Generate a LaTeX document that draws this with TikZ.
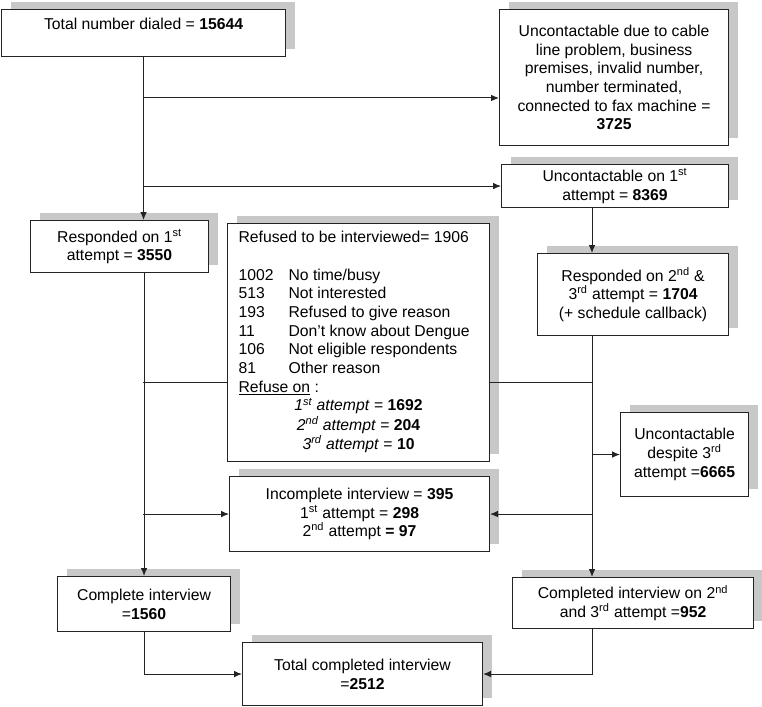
\documentclass[tikz,border=0pt]{standalone}
\usepackage{fontspec}
\setmainfont{Liberation Sans}
\usetikzlibrary{shadows,arrows.meta}
\definecolor{shd}{RGB}{200,200,200}
\definecolor{ln}{RGB}{35,35,35}
\tikzset{
  box/.style={draw=ln, line width=0.8pt, fill=white, anchor=north west, align=center,
    inner sep=2pt, font=\fontsize{11.8pt}{14pt}\selectfont,
    general shadow={fill=shd, draw=none, shadow xshift=6.75pt, shadow yshift=6pt}},
  conn/.style={draw=ln, line width=0.75pt},
  arr/.style={conn, -{Latex[length=6pt,width=5pt]}}
}
\begin{document}
\begin{tikzpicture}[x=0.75pt,y=-0.75pt]
\useasboundingbox (0,0) rectangle (762,706);

\node[box, minimum width=213pt, minimum height=35.25pt] (tot) at (1,9)
  {Total number dialed = \textbf{15644}\\ ~};
\node[box, minimum width=171.75pt, minimum height=102pt] (unc) at (499,9)
  {Uncontactable due to cable\\ line problem, business\\ premises, invalid number,\\ number terminated,\\ connected to fax machine =\\ \textbf{3725}};
\node[box, minimum width=170.25pt, minimum height=32.25pt] (un1) at (501,164)
  {Uncontactable on 1\textsuperscript{st}\\ attempt = \textbf{8369}};
\node[box, minimum width=133.5pt, minimum height=39pt] (r1) at (30,220)
  {Responded on 1\textsuperscript{st}\\ attempt = \textbf{3550}};
\node[box, minimum width=143.25pt, minimum height=61.5pt] (r2) at (537,253)
  {Responded on 2\textsuperscript{nd} \&\\ 3\textsuperscript{rd} attempt = \textbf{1704}\\ (+ schedule callback)};
\node[box, minimum width=196.5pt, minimum height=178.5pt] (ref) at (227,223)
  {\begin{tabular}{@{}p{37.5pt}@{}p{142.5pt}@{}}
   \multicolumn{2}{@{}l@{}}{Refused to be interviewed= 1906}\\
   \\
   1002 & No time/busy\\
   513 & Not interested\\
   193 & Refused to give reason\\
   11 & Don’t know about Dengue\\
   106 & Not eligible respondents\\
   81 & Other reason\\
   \multicolumn{2}{@{}l@{}}{\underline{Refuse on} :}\\
   \multicolumn{2}{@{}c@{}}{\textit{1\textsuperscript{st} attempt} = \textbf{1692}}\\
   \multicolumn{2}{@{}c@{}}{\textit{2\textsuperscript{nd} attempt} = \textbf{204}}\\
   \multicolumn{2}{@{}c@{}}{\textit{3\textsuperscript{rd} attempt} = \textbf{10}}
   \end{tabular}};
\node[box, minimum width=195pt, minimum height=56.25pt] (inc) at (229,476)
  {Incomplete interview = \textbf{395}\\ 1\textsuperscript{st} attempt = \textbf{298}\\ 2\textsuperscript{nd} attempt \textbf{= 97}};
\node[box, minimum width=96pt, minimum height=63pt] (dsp) at (620,412)
  {Uncontactable\\ despite 3\textsuperscript{rd}\\ attempt =\textbf{6665}};
\node[box, minimum width=129.75pt, minimum height=41.25pt] (cp1) at (57,576)
  {Complete interview\\ =\textbf{1560}};
\node[box, minimum width=180.75pt, minimum height=38.25pt] (cp2) at (512,577)
  {Completed interview on 2\textsuperscript{nd}\\ and 3\textsuperscript{rd} attempt =\textbf{952}};
\node[box, minimum width=180pt, minimum height=47.25pt] (tc) at (242,642)
  {Total completed interview\\ =\textbf{2512}};

\coordinate (L) at (143,382);
\coordinate (R) at (592,382);
\coordinate (j1) at (143,98);

% left trunk
\draw[arr] (tot.south) -- (tot.south |- r1.north);
\draw[arr] (j1) -- (j1 -| unc.west);
\draw[arr] (tot.south |- un1.west) -- (un1.west);
\draw[arr] (cp1.north |- r1.south) -- (cp1.north);
\draw[arr] (L |- inc.west) -- (inc.west);
\draw[arr] (cp1.south) -- (cp1.south |- tc.west) -- (tc.west);

% right trunk
\draw[arr] (R |- un1.south) -- (R |- r2.north);
\draw[arr] (R |- r2.south) -- (R |- cp2.north);
\draw[arr] (R |- dsp.west) -- (dsp.west);
\draw[arr] (R |- inc.east) -- (inc.east);
\draw[arr] (R |- cp2.south) -- (R |- tc.east) -- (tc.east);

% refused link
\draw[conn] (L) -- (L -| ref.west);
\draw[conn] (ref.east |- R) -- (R);
\end{tikzpicture}
\end{document}
